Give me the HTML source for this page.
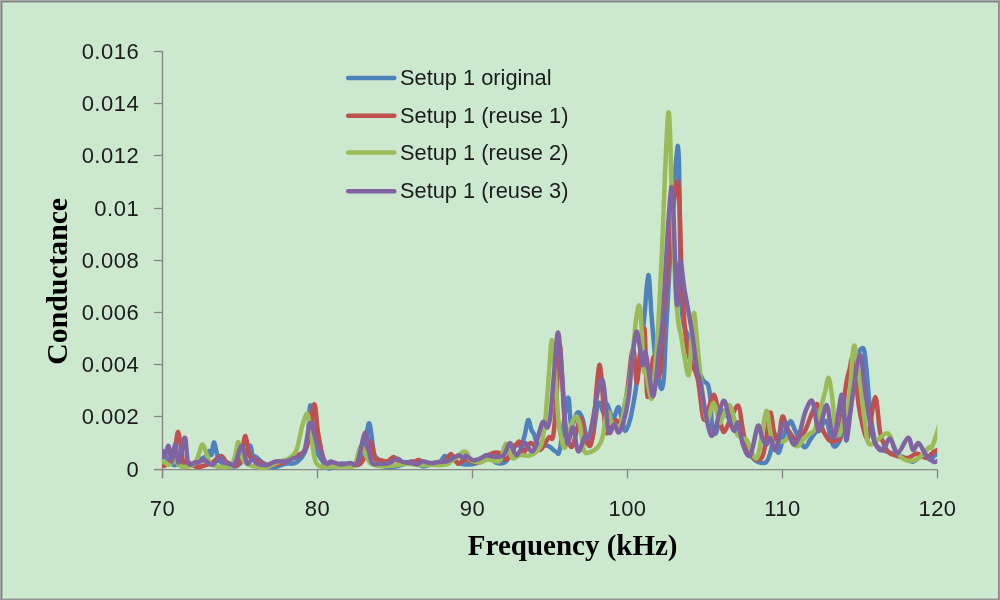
<!DOCTYPE html>
<html><head><meta charset="utf-8"><style>
html,body{margin:0;padding:0;width:1000px;height:600px;overflow:hidden;background:#a9a9a9}
svg{display:block;will-change:transform}
.t{font-family:"Liberation Sans",sans-serif;font-size:22px;fill:#1c1c1c;letter-spacing:0.5px}
.lg{font-family:"Liberation Sans",sans-serif;font-size:21.8px;fill:#1c1c1c}
.ti{font-family:"Liberation Serif",serif;font-weight:bold;font-size:29px;fill:#000}
</style></head><body>
<svg width="1000" height="600" viewBox="0 0 1000 600">
<defs><clipPath id="pc"><rect x="162" y="40" width="775.2" height="431"/></clipPath></defs>
<rect x="0" y="0" width="1000" height="600" fill="#CCE8CF"/>
<rect x="3" y="3" width="994" height="1" fill="#d3eed6"/>
<rect x="3" y="3" width="1" height="594" fill="#d3eed6"/>
<rect x="3" y="597" width="994" height="1" fill="#d3eed6"/>
<rect x="2" y="2" width="996" height="1" fill="#a5b5a7"/>
<rect x="2" y="2" width="1" height="596" fill="#a5b5a7"/>
<rect x="2" y="598" width="996" height="1" fill="#aebdaf"/>
<rect x="1" y="1" width="998" height="1" fill="#838383"/>
<rect x="1" y="1" width="1" height="598" fill="#838383"/>
<rect x="998" y="1" width="1" height="598" fill="#8a8a8a"/>
<rect x="0" y="0" width="1000" height="1" fill="#a9a9a9"/>
<rect x="0" y="0" width="1" height="600" fill="#a9a9a9"/>
<rect x="999" y="0" width="1" height="600" fill="#999999"/>
<rect x="0" y="599" width="1000" height="1" fill="#969696"/>
<g stroke="#868686" stroke-width="1.3" fill="none">
<line x1="162.5" y1="51" x2="162.5" y2="478.3"/>
<line x1="154" y1="469.6" x2="937.5" y2="469.6"/>
<line x1="154" y1="469.50" x2="162.5" y2="469.50"/><line x1="154" y1="416.50" x2="162.5" y2="416.50"/><line x1="154" y1="364.50" x2="162.5" y2="364.50"/><line x1="154" y1="312.50" x2="162.5" y2="312.50"/><line x1="154" y1="260.50" x2="162.5" y2="260.50"/><line x1="154" y1="208.50" x2="162.5" y2="208.50"/><line x1="154" y1="155.50" x2="162.5" y2="155.50"/><line x1="154" y1="103.50" x2="162.5" y2="103.50"/><line x1="154" y1="51.50" x2="162.5" y2="51.50"/><line x1="162.50" y1="469.6" x2="162.50" y2="478.3"/><line x1="317.50" y1="469.6" x2="317.50" y2="478.3"/><line x1="472.50" y1="469.6" x2="472.50" y2="478.3"/><line x1="627.50" y1="469.6" x2="627.50" y2="478.3"/><line x1="782.50" y1="469.6" x2="782.50" y2="478.3"/><line x1="937.50" y1="469.6" x2="937.50" y2="478.3"/>
</g>
<g clip-path="url(#pc)" fill="none" stroke-width="4.5" stroke-linejoin="round" stroke-linecap="round">
<path d="M162.6,451.0 C163.5,452.5 166.0,457.6 168.0,460.0 C170.0,462.4 172.2,465.0 174.5,465.3 C176.8,465.6 179.4,462.1 182.0,462.0 C184.6,461.9 187.7,464.7 190.0,465.0 C192.3,465.3 193.9,465.2 196.0,464.0 C198.1,462.8 200.8,459.2 202.5,458.0 C204.2,456.8 204.9,458.2 206.0,457.0 C207.1,455.8 208.1,451.3 209.0,451.0 C209.9,450.7 210.6,456.4 211.4,455.0 C212.2,453.6 213.0,443.0 213.8,442.5 C214.7,442.0 215.7,449.1 216.5,452.0 C217.3,454.9 217.8,458.3 218.5,460.0 C219.2,461.7 220.1,461.3 221.0,462.0 C221.9,462.7 222.3,463.3 224.0,464.0 C225.7,464.7 228.8,465.7 231.0,466.0 C233.2,466.3 235.0,467.0 237.0,466.0 C239.0,465.0 240.9,463.4 243.0,460.0 C245.1,456.6 248.2,446.1 249.8,445.5 C251.4,444.9 251.8,454.8 252.8,456.6 C253.8,458.5 253.8,455.4 255.7,456.6 C257.6,457.8 261.1,461.9 264.2,463.7 C267.3,465.5 270.6,467.2 274.1,467.2 C277.6,467.2 281.6,464.5 285.4,463.7 C289.2,462.9 293.1,465.0 296.7,462.2 C300.2,459.4 304.4,456.1 306.7,446.7 C308.9,437.2 309.0,407.9 310.2,405.5 C311.4,403.1 312.7,425.1 313.7,432.5 C314.7,439.9 313.9,444.3 316.0,450.0 C318.1,455.7 324.1,463.5 326.5,466.5 C328.9,469.5 328.3,468.5 330.7,468.0 C333.1,467.5 338.3,464.4 340.7,463.7 C343.1,463.0 341.8,463.8 345.0,463.8 C348.2,463.8 356.7,467.1 360.0,463.8 C363.3,460.5 363.4,450.6 365.0,443.8 C366.6,437.1 367.9,421.9 369.4,423.3 C370.9,424.8 372.4,446.6 373.8,452.5 C375.2,458.4 375.8,456.5 377.5,458.8 C379.2,461.1 380.5,465.1 383.8,466.3 C387.1,467.6 392.7,467.1 397.5,466.3 C402.3,465.5 408.3,461.3 412.5,461.3 C416.7,461.3 419.2,465.9 422.5,466.3 C425.8,466.8 429.8,464.5 432.5,464.0 C435.2,463.5 437.4,464.2 439.0,463.5 C440.6,462.8 441.1,460.8 442.0,459.5 C442.9,458.2 443.7,456.4 444.5,456.0 C445.3,455.6 445.6,456.4 447.0,457.0 C448.4,457.6 450.3,458.3 452.7,459.4 C455.1,460.5 457.4,463.0 461.2,463.7 C465.0,464.4 471.1,465.1 475.4,463.7 C479.6,462.3 483.1,455.3 486.7,455.2 C490.2,455.1 493.4,462.0 496.7,462.9 C500.0,463.8 503.8,463.6 506.6,460.8 C509.4,458.0 511.3,448.6 513.7,446.0 C516.1,443.4 519.2,446.7 521.0,445.0 C522.8,443.3 523.3,440.2 524.5,436.0 C525.7,431.8 526.9,421.0 528.1,420.0 C529.3,419.0 530.4,427.5 531.5,430.0 C532.6,432.5 533.5,432.7 534.5,435.0 C535.5,437.3 535.3,441.9 537.7,443.8 C540.1,445.7 545.7,444.9 548.8,446.2 C551.8,447.6 554.4,451.5 556.2,451.9 C558.1,452.3 558.1,457.7 560.0,448.8 C561.9,439.8 565.9,402.0 567.8,398.0 C569.7,394.0 569.6,422.6 571.2,425.0 C572.9,427.4 575.6,413.5 577.5,412.5 C579.4,411.5 580.8,414.0 582.5,418.8 C584.2,423.5 585.8,438.1 587.5,441.2 C589.2,444.4 590.8,443.3 592.5,437.5 C594.2,431.7 596.1,411.8 597.5,406.2 C598.9,400.7 600.1,403.0 601.0,404.0 C601.9,405.0 602.1,412.1 603.0,412.0 C603.9,411.9 605.3,403.5 606.5,403.5 C607.7,403.5 608.9,409.2 610.0,412.0 C611.1,414.8 611.6,420.8 613.0,420.0 C614.4,419.2 616.9,407.0 618.4,407.0 C619.9,407.0 620.8,416.0 622.0,420.0 C623.2,424.0 624.2,431.0 625.5,431.0 C626.8,431.0 628.6,425.2 630.0,420.0 C631.4,414.8 632.8,406.7 634.0,400.0 C635.2,393.3 635.3,393.3 637.0,380.0 C638.7,366.7 642.1,337.5 644.0,320.0 C645.9,302.5 647.0,275.8 648.3,275.0 C649.5,274.2 650.4,301.7 651.5,315.0 C652.6,328.3 653.9,345.0 655.0,355.0 C656.1,365.0 657.0,369.3 658.0,375.0 C659.0,380.7 660.3,389.0 661.3,389.0 C662.3,389.0 663.1,386.5 664.0,375.0 C664.9,363.5 664.4,358.2 666.7,320.0 C669.0,281.8 675.1,148.5 677.6,146.0 C680.1,143.5 679.4,272.7 681.5,305.0 C683.6,337.3 687.4,329.8 690.0,340.0 C692.6,350.2 694.8,359.3 697.0,366.0 C699.2,372.7 701.2,376.8 703.0,380.0 C704.8,383.2 706.8,381.7 708.0,385.0 C709.2,388.3 709.8,393.3 710.5,400.0 C711.2,406.7 711.1,419.5 712.0,425.0 C712.9,430.5 714.3,435.2 716.0,433.0 C717.7,430.8 720.2,415.0 722.0,412.0 C723.8,409.0 725.0,412.0 727.0,415.0 C729.0,418.0 731.8,427.2 734.0,430.0 C736.2,432.8 738.0,429.2 740.0,432.0 C742.0,434.8 744.0,442.8 746.0,447.0 C748.0,451.2 750.0,454.5 752.0,457.0 C754.0,459.5 755.9,461.2 758.3,462.0 C760.7,462.8 764.2,464.0 766.3,462.0 C768.4,460.0 769.7,454.9 771.0,450.0 C772.3,445.1 773.1,432.2 774.3,432.7 C775.5,433.1 776.7,452.3 778.3,452.7 C779.9,453.1 782.0,440.2 784.0,435.0 C786.0,429.8 788.5,422.1 790.3,421.3 C792.1,420.5 792.7,425.7 795.0,430.0 C797.3,434.3 801.5,445.3 804.0,447.0 C806.5,448.7 808.2,442.3 810.0,440.0 C811.8,437.7 813.3,435.0 815.0,433.0 C816.7,431.0 818.1,430.0 820.0,428.0 C821.9,426.0 824.8,419.8 826.5,421.0 C828.2,422.2 828.8,430.8 830.0,435.0 C831.2,439.2 832.3,445.7 834.0,446.5 C835.7,447.3 838.5,443.1 840.0,440.0 C841.5,436.9 841.4,432.2 843.0,428.0 C844.6,423.8 848.0,422.2 849.7,415.0 C851.4,407.8 851.8,394.2 853.0,385.0 C854.2,375.8 855.8,365.8 857.0,360.0 C858.2,354.2 858.8,351.7 860.0,350.0 C861.2,348.3 862.9,346.7 864.0,350.0 C865.1,353.3 865.5,360.0 866.5,370.0 C867.5,380.0 868.9,399.5 870.0,410.0 C871.1,420.5 872.1,427.0 873.3,433.0 C874.5,439.0 874.5,442.8 877.0,446.0 C879.5,449.2 883.8,450.2 888.0,452.0 C892.2,453.8 897.9,454.9 902.0,456.5 C906.1,458.1 909.0,461.9 912.5,461.7 C916.0,461.4 920.0,455.4 923.0,455.0 C926.0,454.6 928.4,459.8 930.5,459.5 C932.6,459.2 934.5,454.2 935.7,453.5 C936.9,452.8 937.2,454.8 937.5,455.0" stroke="#4F81BD"/>
<path d="M162.6,462.0 C162.9,462.7 163.3,466.0 164.3,466.0 C165.3,466.0 167.5,462.7 168.7,462.0 C169.9,461.3 170.6,464.8 171.7,462.0 C172.8,459.2 174.4,450.0 175.5,445.0 C176.6,440.0 177.3,431.7 178.2,432.0 C179.1,432.3 180.1,441.8 181.0,447.0 C181.9,452.2 182.3,460.5 183.4,463.0 C184.5,465.5 185.4,461.4 187.5,462.0 C189.6,462.6 193.5,466.3 196.2,466.9 C198.9,467.5 201.3,466.4 203.8,465.8 C206.3,465.2 208.4,464.7 211.3,463.1 C214.2,461.5 218.6,456.2 221.1,456.0 C223.6,455.8 223.8,460.4 226.5,462.0 C229.2,463.6 234.8,466.8 237.3,465.3 C239.8,463.9 240.3,458.2 241.7,453.3 C243.1,448.4 244.2,435.6 245.5,436.0 C246.8,436.4 248.1,451.8 249.3,455.5 C250.6,459.2 251.7,457.1 253.0,458.0 C254.3,458.9 254.8,459.6 257.1,460.8 C259.4,462.0 262.3,464.9 267.0,465.1 C271.7,465.3 280.9,463.6 285.4,462.2 C289.9,460.8 290.3,459.2 293.9,456.6 C297.4,454.0 303.3,455.4 306.7,446.7 C310.1,438.0 312.1,406.9 314.0,404.5 C315.9,402.1 316.4,423.4 318.0,432.5 C319.6,441.6 321.7,454.2 323.6,459.4 C325.5,464.6 326.5,462.9 329.3,463.7 C332.1,464.5 336.0,464.2 340.7,464.4 C345.4,464.6 353.7,465.9 357.5,465.0 C361.3,464.1 361.6,462.5 363.8,458.8 C365.9,455.0 368.7,442.5 370.6,442.5 C372.5,442.5 373.4,455.8 375.0,458.8 C376.6,461.7 377.9,459.6 380.0,460.0 C382.1,460.4 385.2,461.8 387.5,461.3 C389.8,460.8 391.7,456.7 393.8,456.9 C395.8,457.1 396.9,461.6 400.0,462.5 C403.1,463.4 409.4,462.9 412.5,462.5 C415.6,462.1 416.5,459.8 418.8,460.0 C421.0,460.2 422.9,463.2 426.2,463.8 C429.6,464.2 435.6,463.4 438.8,463.0 C441.9,462.6 443.5,462.5 445.0,461.5 C446.5,460.5 447.0,458.2 448.0,457.0 C449.0,455.8 450.0,454.0 450.9,454.0 C451.8,454.0 452.4,455.4 453.5,457.0 C454.6,458.6 456.4,462.7 457.6,463.5 C458.9,464.3 459.7,462.7 461.0,462.0 C462.3,461.3 463.3,459.4 465.5,459.4 C467.7,459.4 471.2,461.8 474.0,462.2 C476.8,462.6 479.9,462.8 482.5,461.5 C485.1,460.2 486.8,455.8 489.6,454.4 C492.4,453.0 496.7,452.2 499.5,453.0 C502.3,453.8 503.4,461.3 506.6,459.4 C509.8,457.5 515.8,442.9 518.6,441.7 C521.4,440.5 521.6,452.1 523.6,452.3 C525.6,452.5 527.9,443.5 530.6,443.1 C533.3,442.7 537.0,450.9 540.0,450.0 C543.0,449.1 546.6,439.7 548.8,437.5 C550.9,435.3 551.8,442.4 553.0,437.0 C554.2,431.6 554.9,420.2 556.0,405.0 C557.1,389.8 558.5,351.0 559.5,346.0 C560.5,341.0 561.2,362.7 562.0,375.0 C562.8,387.3 563.6,409.6 564.5,420.0 C565.4,430.4 566.2,433.1 567.5,437.5 C568.8,441.9 570.4,449.4 572.5,446.2 C574.6,443.1 578.1,421.2 580.0,418.8 C581.9,416.2 582.5,427.1 583.8,431.2 C585.0,435.4 586.0,442.7 587.5,443.8 C589.0,444.8 590.5,450.6 592.5,437.5 C594.5,424.4 597.2,367.1 599.3,365.0 C601.4,362.9 603.5,413.8 605.0,425.0 C606.5,436.2 606.8,433.2 608.6,432.5 C610.4,431.8 613.5,421.9 615.6,420.5 C617.7,419.1 619.8,425.8 621.2,424.0 C622.6,422.2 622.9,416.5 624.0,410.0 C625.1,403.5 626.8,394.2 628.0,385.0 C629.2,375.8 630.5,360.5 631.5,355.0 C632.5,349.5 633.1,347.3 634.0,352.0 C634.9,356.7 635.8,384.2 637.0,383.0 C638.2,381.8 639.8,354.0 641.0,345.0 C642.2,336.0 643.7,324.8 644.5,329.0 C645.3,333.2 645.5,358.7 646.0,370.0 C646.5,381.3 646.7,396.2 647.5,397.0 C648.3,397.8 650.0,381.7 651.0,375.0 C652.0,368.3 652.6,357.0 653.5,357.0 C654.4,357.0 655.4,372.5 656.5,375.0 C657.6,377.5 658.9,379.5 660.0,372.0 C661.1,364.5 662.0,343.7 663.0,330.0 C664.0,316.3 663.6,314.8 666.0,290.0 C668.4,265.2 674.7,181.0 677.4,181.0 C680.1,181.0 680.5,261.8 682.2,290.0 C683.9,318.2 685.0,335.3 687.5,350.0 C690.0,364.7 694.9,366.6 697.5,378.0 C700.1,389.4 701.5,413.0 703.3,418.3 C705.0,423.6 706.2,413.9 708.0,410.0 C709.8,406.1 712.2,393.3 714.2,395.0 C716.2,396.7 718.4,413.8 720.0,420.0 C721.6,426.2 722.3,432.0 724.0,432.0 C725.7,432.0 727.6,424.4 730.0,420.0 C732.4,415.6 736.2,404.7 738.2,405.5 C740.2,406.3 740.9,419.2 742.0,425.0 C743.1,430.8 743.7,435.5 745.0,440.0 C746.3,444.5 748.2,448.8 750.0,452.0 C751.8,455.2 753.7,458.5 755.7,459.3 C757.8,460.1 760.6,459.9 762.3,456.7 C764.0,453.5 764.7,447.3 766.0,440.0 C767.3,432.7 769.0,414.0 770.3,412.7 C771.6,411.4 772.7,427.3 774.0,432.0 C775.3,436.7 776.9,443.2 778.3,440.7 C779.7,438.1 780.8,418.8 782.3,416.7 C783.8,414.6 785.4,424.9 787.0,428.0 C788.6,431.1 790.4,433.5 791.7,435.3 C793.0,437.1 793.6,438.9 795.0,439.0 C796.4,439.1 798.2,437.5 800.0,436.0 C801.8,434.5 803.5,433.8 805.5,430.0 C807.5,426.2 810.0,417.2 812.0,413.0 C814.0,408.8 815.8,402.2 817.5,404.5 C819.2,406.8 820.8,422.1 822.0,427.0 C823.2,431.9 823.8,431.8 825.0,434.0 C826.2,436.2 827.5,439.4 829.5,440.5 C831.5,441.6 835.2,441.8 837.0,440.5 C838.8,439.2 838.5,442.2 840.0,433.0 C841.5,423.8 844.4,395.7 846.0,385.0 C847.6,374.3 848.7,373.5 849.7,369.0 C850.7,364.5 851.1,358.7 852.0,358.0 C852.9,357.3 854.0,358.0 855.0,365.0 C856.0,372.0 857.0,391.2 858.0,400.0 C859.0,408.8 859.7,411.8 861.0,418.0 C862.3,424.2 864.7,434.5 866.0,437.0 C867.3,439.5 867.5,439.7 869.0,433.0 C870.5,426.3 873.5,397.2 875.3,397.0 C877.1,396.8 878.4,423.4 880.0,431.7 C881.6,440.0 883.3,443.4 885.0,447.0 C886.7,450.6 887.7,451.9 890.0,453.5 C892.3,455.1 896.0,455.8 899.0,456.5 C902.0,457.2 905.0,458.5 908.0,458.0 C911.0,457.5 914.0,453.5 917.0,453.5 C920.0,453.5 923.2,458.2 926.0,458.0 C928.8,457.8 931.6,453.3 933.5,452.0 C935.4,450.7 936.8,450.3 937.5,450.0" stroke="#C0504D"/>
<path d="M162.6,461.6 C163.2,461.8 165.0,462.4 166.0,463.0 C167.0,463.6 167.2,465.4 168.7,465.0 C170.1,464.6 172.8,460.5 174.7,460.7 C176.6,460.9 178.1,465.0 180.0,466.0 C181.9,467.0 183.6,467.2 186.0,466.8 C188.4,466.4 192.6,465.3 194.7,463.3 C196.8,461.3 197.2,458.1 198.5,455.0 C199.8,451.9 200.9,444.6 202.3,444.5 C203.7,444.4 205.6,451.6 206.8,454.7 C208.0,457.8 208.4,461.2 209.5,463.0 C210.6,464.8 211.8,464.7 213.5,465.3 C215.2,465.9 217.1,466.7 220.0,466.9 C222.9,467.1 228.3,468.2 230.8,466.3 C233.3,464.4 233.9,459.6 235.2,455.5 C236.5,451.4 237.3,441.8 238.4,442.0 C239.5,442.2 240.2,452.9 241.7,456.6 C243.1,460.3 244.9,462.6 247.1,464.2 C249.3,465.8 251.8,465.7 254.7,466.3 C257.6,466.9 260.3,468.7 264.2,468.0 C268.1,467.3 274.1,463.9 278.3,462.2 C282.6,460.5 286.6,460.1 289.7,458.0 C292.8,455.9 294.6,454.9 296.7,449.5 C298.8,444.1 300.6,431.3 302.4,425.4 C304.2,419.5 306.0,412.8 307.4,414.0 C308.8,415.2 309.9,425.9 311.0,432.5 C312.1,439.1 312.8,448.5 313.7,453.7 C314.6,458.9 315.0,461.4 316.6,463.6 C318.2,465.9 320.5,466.7 323.6,467.2 C326.7,467.7 330.7,466.6 335.0,466.5 C339.3,466.4 345.9,466.8 349.2,466.5 C352.5,466.2 353.1,468.4 355.0,465.0 C356.9,461.6 358.7,447.7 360.6,446.2 C362.5,444.8 364.5,453.3 366.2,456.2 C368.0,459.2 368.5,462.1 371.2,463.8 C374.0,465.4 378.1,466.0 382.5,466.2 C386.9,466.5 393.3,465.4 397.5,465.0 C401.7,464.6 403.8,463.8 407.5,463.8 C411.2,463.8 415.8,464.8 420.0,465.0 C424.2,465.2 429.2,465.0 432.5,465.0 C435.8,465.0 437.4,465.3 440.0,465.1 C442.6,464.9 445.8,464.9 448.0,464.0 C450.2,463.1 451.3,460.7 453.0,459.5 C454.7,458.3 456.6,458.1 458.0,457.0 C459.4,455.9 460.4,453.9 461.5,453.0 C462.6,452.1 463.6,451.4 464.6,451.5 C465.6,451.6 466.6,452.2 467.5,453.5 C468.4,454.8 467.7,457.9 469.7,459.4 C471.7,460.8 476.6,462.2 479.7,462.2 C482.8,462.2 484.9,459.6 488.2,459.4 C491.5,459.2 496.6,463.4 499.5,460.8 C502.4,458.2 503.8,444.3 505.9,443.8 C508.0,443.3 510.0,456.1 512.2,458.0 C514.4,459.9 516.2,455.7 519.3,455.2 C522.4,454.7 527.1,456.5 530.6,455.2 C534.1,453.9 537.9,450.5 540.0,447.5 C542.1,444.5 542.1,441.9 543.0,437.0 C543.9,432.1 544.5,429.2 545.5,418.0 C546.5,406.8 548.2,383.0 549.2,370.0 C550.2,357.0 550.8,340.0 551.8,340.0 C552.8,340.0 553.9,356.7 555.0,370.0 C556.1,383.3 557.3,408.8 558.3,420.0 C559.3,431.2 560.1,432.9 561.2,437.5 C562.4,442.1 563.3,449.6 565.0,447.5 C566.7,445.4 569.4,430.2 571.2,425.0 C573.1,419.8 574.8,416.2 576.2,416.2 C577.7,416.2 578.8,419.4 580.0,425.0 C581.2,430.6 582.3,445.4 583.8,450.0 C585.2,454.6 586.5,452.9 588.8,452.5 C591.0,452.1 595.2,450.0 597.5,447.5 C599.8,445.0 601.0,442.9 602.5,437.5 C604.0,432.1 605.1,419.1 606.2,415.0 C607.4,410.9 608.4,411.7 609.2,412.7 C610.0,413.7 609.8,418.8 611.3,421.2 C612.8,423.6 616.6,427.0 618.4,426.8 C620.2,426.6 620.8,424.5 622.0,420.0 C623.2,415.5 624.3,405.8 625.5,400.0 C626.7,394.2 627.9,391.7 629.0,385.0 C630.1,378.3 630.8,370.8 632.0,360.0 C633.2,349.2 634.8,329.0 636.0,320.0 C637.2,311.0 638.5,303.5 639.5,306.0 C640.5,308.5 641.3,324.3 642.0,335.0 C642.7,345.7 642.8,363.8 643.5,370.0 C644.2,376.2 645.1,368.7 646.0,372.0 C646.9,375.3 648.0,385.7 649.0,390.0 C650.0,394.3 651.0,401.3 652.0,398.0 C653.0,394.7 653.9,383.0 655.0,370.0 C656.1,357.0 657.3,340.0 658.5,320.0 C659.7,300.0 660.4,284.5 662.0,250.0 C663.6,215.5 666.6,121.3 668.3,113.0 C670.0,104.7 670.8,170.5 672.0,200.0 C673.2,229.5 674.4,269.2 675.5,290.0 C676.6,310.8 677.8,317.5 678.7,325.0 C679.6,332.5 680.0,329.2 681.0,335.0 C682.0,340.8 683.7,353.5 685.0,360.0 C686.3,366.5 687.8,379.0 689.0,374.0 C690.2,369.0 691.1,340.2 692.0,330.0 C692.9,319.8 693.4,311.3 694.2,313.0 C695.0,314.7 695.9,328.8 697.0,340.0 C698.1,351.2 699.4,366.7 701.0,380.0 C702.6,393.3 704.6,416.2 706.7,420.0 C708.8,423.8 711.4,402.7 713.5,403.0 C715.6,403.3 718.0,419.5 719.5,422.0 C721.0,424.5 720.9,420.8 722.5,418.0 C724.1,415.2 727.2,404.7 729.2,405.0 C731.2,405.3 733.1,415.0 734.5,420.0 C735.9,425.0 735.5,431.7 737.5,435.0 C739.5,438.3 744.1,437.0 746.5,440.0 C748.9,443.0 750.2,450.0 752.0,453.0 C753.8,456.0 755.5,460.2 757.0,458.0 C758.5,455.8 759.5,447.8 761.0,440.0 C762.5,432.2 764.8,412.7 766.3,411.0 C767.8,409.3 768.9,424.6 770.0,430.0 C771.1,435.4 771.5,441.3 773.0,443.3 C774.5,445.3 777.0,442.4 779.0,442.0 C781.0,441.6 783.3,441.5 785.0,440.7 C786.7,439.9 787.7,436.4 789.0,437.0 C790.3,437.6 791.5,442.5 793.0,444.0 C794.5,445.5 796.6,446.7 798.3,446.0 C800.0,445.3 801.3,441.9 803.0,440.0 C804.7,438.1 806.6,436.2 808.5,434.5 C810.4,432.8 812.8,433.2 814.5,430.0 C816.2,426.8 817.2,421.3 819.0,415.0 C820.8,408.7 823.4,398.2 825.0,392.0 C826.6,385.8 827.5,376.7 828.7,378.0 C830.0,379.3 831.4,391.3 832.5,400.0 C833.6,408.7 834.2,424.3 835.5,430.0 C836.8,435.7 838.5,436.5 840.0,434.0 C841.5,431.5 843.2,418.9 844.5,415.0 C845.8,411.1 846.5,415.5 847.5,410.5 C848.5,405.5 849.7,394.2 850.5,385.0 C851.3,375.8 851.8,361.5 852.5,355.0 C853.2,348.5 853.9,344.3 854.7,346.0 C855.5,347.7 856.6,359.0 857.5,365.0 C858.4,371.0 858.8,372.3 860.0,382.0 C861.2,391.7 863.4,412.6 865.0,423.0 C866.6,433.4 866.2,442.7 869.9,444.4 C873.6,446.1 882.9,432.7 887.0,433.2 C891.1,433.7 892.0,443.4 894.5,447.5 C897.0,451.6 899.2,455.8 902.0,458.0 C904.8,460.2 908.0,461.1 911.0,461.0 C914.0,460.9 917.0,459.4 920.0,457.2 C923.0,454.9 927.0,449.2 929.0,447.5 C931.0,445.8 930.6,449.8 932.0,447.0 C933.4,444.2 936.2,435.2 937.5,431.0 C938.8,426.8 939.6,423.5 940.0,422.0" stroke="#9BBB59"/>
<path d="M162.6,451.2 C162.9,452.2 163.3,457.9 164.3,457.0 C165.3,456.1 167.5,445.2 168.7,446.0 C169.9,446.8 170.6,461.9 171.7,461.6 C172.8,461.3 174.2,443.9 175.4,444.0 C176.6,444.1 177.1,463.5 178.6,462.5 C180.1,461.5 183.2,440.1 184.5,438.0 C185.8,435.9 186.0,446.1 186.5,450.0 C187.0,453.9 187.1,459.2 187.7,461.6 C188.3,464.0 189.1,464.5 190.3,464.6 C191.5,464.8 193.2,462.9 194.7,462.5 C196.1,462.1 197.3,462.4 199.0,462.0 C200.7,461.6 202.8,459.9 204.6,460.3 C206.4,460.7 208.5,463.6 210.0,464.2 C211.5,464.8 211.8,465.3 213.5,464.2 C215.2,463.1 218.2,458.1 220.0,457.7 C221.8,457.3 222.5,460.9 224.3,462.0 C226.1,463.1 229.0,463.9 230.8,464.2 C232.6,464.5 233.4,466.7 235.2,463.6 C237.0,460.5 239.7,445.9 241.7,445.8 C243.7,445.7 245.3,460.9 247.1,463.1 C248.9,465.3 250.8,458.7 252.5,458.8 C254.2,458.9 254.7,462.6 257.1,463.7 C259.5,464.8 263.9,465.5 267.0,465.1 C270.1,464.7 272.4,462.1 275.5,461.5 C278.6,460.9 282.6,462.0 285.4,461.5 C288.2,461.0 289.4,460.2 292.5,458.7 C295.6,457.2 300.9,458.2 303.8,452.3 C306.8,446.4 308.1,424.6 310.2,423.0 C312.3,421.4 314.8,437.5 316.6,442.4 C318.4,447.3 319.2,448.8 320.8,452.3 C322.4,455.9 324.9,462.2 326.5,463.7 C328.1,465.2 328.3,461.4 330.7,461.5 C333.1,461.6 337.5,464.1 340.7,464.4 C343.9,464.6 347.2,463.3 350.0,463.0 C352.8,462.7 354.9,467.6 357.5,462.5 C360.1,457.4 363.1,432.7 365.4,432.5 C367.7,432.3 368.9,456.1 371.3,461.3 C373.7,466.5 377.1,463.5 380.0,463.8 C382.9,464.1 385.9,463.9 388.8,463.1 C391.7,462.3 395.2,459.0 397.5,458.8 C399.8,458.6 400.0,461.2 402.5,461.9 C405.0,462.6 410.0,462.7 412.5,463.1 C415.0,463.5 415.8,464.7 417.5,464.4 C419.2,464.1 420.4,461.5 422.5,461.3 C424.6,461.1 427.3,463.0 430.0,463.1 C432.7,463.2 435.7,462.3 438.8,461.9 C441.9,461.5 445.2,461.9 448.5,460.8 C451.8,459.7 456.0,455.7 458.4,455.2 C460.8,454.7 461.4,457.9 462.7,458.0 C464.0,458.1 464.5,455.5 466.2,455.9 C467.9,456.2 470.4,459.6 472.6,460.1 C474.9,460.6 477.4,459.5 479.7,458.7 C482.0,457.9 484.3,455.5 486.7,455.2 C489.1,454.9 491.0,456.6 493.8,456.6 C496.6,456.6 501.0,457.4 503.7,455.2 C506.4,452.9 508.0,443.1 510.1,443.1 C512.2,443.1 514.0,455.2 516.5,455.2 C519.0,455.2 522.6,443.8 525.0,443.1 C527.4,442.4 528.9,450.2 530.6,450.9 C532.3,451.6 533.0,452.2 535.0,447.5 C537.0,442.8 540.4,425.8 542.5,422.5 C544.6,419.2 546.2,428.8 547.5,427.5 C548.8,426.2 549.3,424.9 550.5,415.0 C551.7,405.1 553.2,381.8 554.5,368.0 C555.8,354.2 556.8,332.5 558.0,332.5 C559.2,332.5 560.3,353.4 561.5,368.0 C562.7,382.6 564.0,407.4 565.0,420.0 C566.0,432.6 566.1,442.5 567.5,443.8 C568.9,445.0 571.3,426.2 573.1,427.5 C574.9,428.8 576.1,449.8 578.1,451.3 C580.1,452.8 583.0,439.2 585.0,436.3 C587.0,433.4 587.2,443.4 590.0,433.8 C592.8,424.2 598.6,379.5 601.7,379.0 C604.8,378.5 606.4,423.5 608.5,431.0 C610.6,438.5 612.6,423.8 614.2,424.0 C615.9,424.2 616.9,432.5 618.4,432.5 C619.9,432.5 621.3,429.8 623.0,424.0 C624.7,418.2 627.0,408.7 628.5,398.0 C630.0,387.3 630.7,371.0 632.0,360.0 C633.3,349.0 635.0,334.5 636.3,332.0 C637.5,329.5 638.4,339.5 639.5,345.0 C640.6,350.5 641.7,363.8 642.7,365.0 C643.7,366.2 644.3,351.2 645.3,352.0 C646.3,352.8 647.3,362.7 648.5,370.0 C649.7,377.3 651.5,394.3 652.7,396.0 C654.0,397.7 655.0,387.7 656.0,380.0 C657.0,372.3 657.9,360.0 659.0,350.0 C660.1,340.0 660.6,347.2 662.7,320.0 C664.8,292.8 669.1,189.8 671.4,187.0 C673.7,184.2 675.3,290.7 676.7,303.0 C678.1,315.3 678.7,263.2 680.0,261.0 C681.3,258.8 682.5,278.2 684.5,290.0 C686.5,301.8 689.9,318.7 692.0,332.0 C694.1,345.3 695.7,362.0 697.0,370.0 C698.3,378.0 697.6,369.1 700.0,380.0 C702.4,390.9 707.3,432.0 711.2,435.5 C715.1,439.0 720.1,403.2 723.2,401.0 C726.3,398.8 728.1,417.0 730.0,422.0 C731.9,427.0 733.1,430.9 734.5,431.0 C735.9,431.1 736.8,420.4 738.2,422.7 C739.6,425.0 741.0,439.6 743.0,445.0 C745.0,450.4 747.8,458.5 750.3,455.3 C752.8,452.1 755.8,429.1 757.7,426.0 C759.7,422.9 760.6,433.9 762.0,437.0 C763.4,440.1 764.9,444.5 766.3,444.7 C767.7,444.9 768.7,437.1 770.3,438.0 C771.9,438.9 773.6,452.4 775.7,450.0 C777.8,447.6 781.0,426.3 783.0,423.3 C785.0,420.3 786.1,428.4 788.0,432.0 C789.9,435.6 792.3,444.7 794.3,444.7 C796.3,444.7 798.2,437.3 800.0,432.0 C801.8,426.7 803.0,417.9 805.0,412.7 C807.0,407.5 810.2,398.9 812.2,401.0 C814.2,403.1 815.8,420.2 817.0,425.0 C818.2,429.8 818.1,433.3 819.7,430.0 C821.3,426.7 824.6,405.3 826.5,405.0 C828.4,404.7 829.6,422.8 831.0,428.0 C832.4,433.2 833.0,441.5 834.7,436.0 C836.5,430.5 839.9,397.7 841.5,395.0 C843.1,392.3 843.6,412.5 844.5,420.0 C845.4,427.5 845.5,443.3 846.7,440.0 C848.0,436.7 849.8,414.2 852.0,400.0 C854.2,385.8 857.5,356.7 859.7,355.0 C861.9,353.3 863.3,378.7 865.0,390.0 C866.7,401.3 868.3,414.2 870.0,423.0 C871.7,431.8 872.9,438.4 875.0,443.0 C877.1,447.6 880.0,451.2 882.5,450.5 C885.0,449.8 887.5,438.0 890.0,438.5 C892.5,439.0 894.5,453.6 897.5,453.5 C900.5,453.4 905.4,438.3 908.0,437.7 C910.6,437.1 911.2,449.1 913.0,450.0 C914.8,450.9 916.3,442.2 918.5,443.0 C920.7,443.8 923.5,451.9 926.0,455.0 C928.5,458.1 931.6,460.7 933.5,461.7 C935.4,462.7 936.8,461.1 937.5,461.0" stroke="#8064A2"/>
</g>
<g class="t">
<text x="139.2" y="477.1" text-anchor="end">0</text>
<text x="139.2" y="424.1" text-anchor="end">0.002</text>
<text x="139.2" y="372.1" text-anchor="end">0.004</text>
<text x="139.2" y="320.1" text-anchor="end">0.006</text>
<text x="139.2" y="268.1" text-anchor="end">0.008</text>
<text x="139.2" y="216.1" text-anchor="end">0.01</text>
<text x="139.2" y="163.1" text-anchor="end">0.012</text>
<text x="139.2" y="111.1" text-anchor="end">0.014</text>
<text x="139.2" y="59.1" text-anchor="end">0.016</text>
<text x="162.5" y="516.2" text-anchor="middle">70</text>
<text x="317.5" y="516.2" text-anchor="middle">80</text>
<text x="472.5" y="516.2" text-anchor="middle">90</text>
<text x="627.5" y="516.2" text-anchor="middle">100</text>
<text x="782.5" y="516.2" text-anchor="middle">110</text>
<text x="937.5" y="516.2" text-anchor="middle">120</text>
</g>
<g class="lg">
<line x1="348.2" y1="78.00" x2="394.3" y2="78.00" stroke="#4F81BD" stroke-width="4.5" stroke-linecap="round"/><text x="400" y="84.9">Setup 1 original</text>
<line x1="348.2" y1="115.70" x2="394.3" y2="115.70" stroke="#C0504D" stroke-width="4.5" stroke-linecap="round"/><text x="400" y="122.6">Setup 1 (reuse 1)</text>
<line x1="348.2" y1="152.60" x2="394.3" y2="152.60" stroke="#9BBB59" stroke-width="4.5" stroke-linecap="round"/><text x="400" y="160.3">Setup 1 (reuse 2)</text>
<line x1="348.2" y1="191.20" x2="394.3" y2="191.20" stroke="#8064A2" stroke-width="4.5" stroke-linecap="round"/><text x="400" y="198.0">Setup 1 (reuse 3)</text>
</g>
<text class="ti" x="572.7" y="555" text-anchor="middle">Frequency (kHz)</text>
<text class="ti" transform="translate(66.5,281.3) rotate(-90) scale(1.025,0.98)" text-anchor="middle">Conductance</text>
</svg>
</body></html>
